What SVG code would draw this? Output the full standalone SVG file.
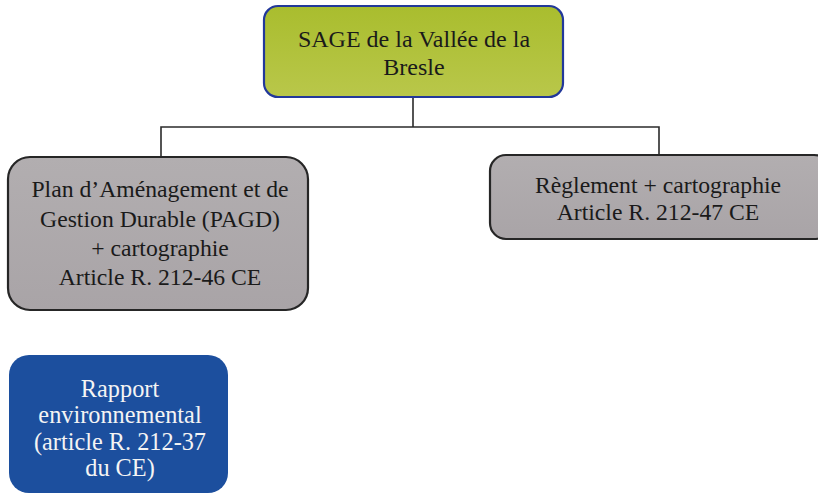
<svg xmlns="http://www.w3.org/2000/svg" width="818" height="502" viewBox="0 0 818 502">
<style>
text{font-family:"Liberation Serif","Times New Roman",serif;font-size:23.7px;text-anchor:middle;fill:#1a1a1a}
.gray{fill:url(#gg);stroke:#262626;stroke-width:2.2}
.w{fill:#f4f4f4;font-size:24.3px}
.conn{fill:none;stroke:#2b2b2b;stroke-width:1.6}
</style>
<defs>
<linearGradient id="yg" x1="0" y1="0" x2="0" y2="1">
<stop offset="0" stop-color="#a9bd2e"/><stop offset="1" stop-color="#b9c74a"/>
</linearGradient>
<linearGradient id="gg" x1="0" y1="0" x2="0" y2="1">
<stop offset="0" stop-color="#b2aeb0"/><stop offset="1" stop-color="#a9a4a7"/>
</linearGradient>
</defs>
<rect width="818" height="502" fill="#ffffff"/>
<g id="connectors">
<path class="conn" d="M413,97 V127 M161,156 V127 H659 V155"/>
</g>
<g id="sage">
<rect x="264" y="6" width="299" height="91" rx="14" fill="url(#yg)" stroke="#22389a" stroke-width="2.2"/>
<text x="414" y="47" style="font-size:24px">SAGE de la Vallée de la</text>
<text x="414" y="75" style="font-size:24px">Bresle</text>
</g>
<g id="pagd">
<rect class="gray" x="8" y="157" width="300" height="153" rx="22"/>
<text x="160" y="197">Plan d’Aménagement et de</text>
<text x="160" y="227">Gestion Durable (PAGD)</text>
<text x="160" y="256">+ cartographie</text>
<text x="160" y="285">Article R. 212-46 CE</text>
</g>
<g id="reglement">
<rect class="gray" x="490" y="155" width="340" height="84" rx="16"/>
<text x="658" y="193">Règlement + cartographie</text>
<text x="658" y="220">Article R. 212-47 CE</text>
</g>
<g id="rapport">
<rect x="9" y="355" width="219" height="138" rx="20" fill="#1c4f9e"/>
<text class="w" x="120" y="397">Rapport</text>
<text class="w" x="120" y="423">environnemental</text>
<text class="w" x="120" y="450">(article R. 212-37</text>
<text class="w" x="120" y="476">du CE)</text>
</g>
</svg>
